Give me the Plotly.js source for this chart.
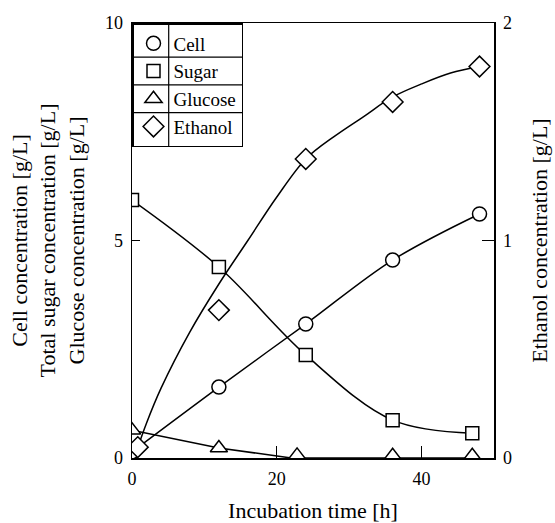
<!DOCTYPE html>
<html>
<head>
<meta charset="utf-8">
<script src="https://cdn.plot.ly/plotly-3.0.1.min.js"></script>
<style>html,body{margin:0;padding:0;background:#fff;}#chart{width:555px;height:523px;}</style>
</head>
<body>
<div id="chart"></div>
<script>
// Data
const cellX = [0, 12, 24, 36, 48];
const cellY = [0.14, 1.63, 3.08, 4.55, 5.61];
const sugarX = [0, 12, 24, 36, 47];
const sugarY = [5.93, 4.39, 2.37, 0.87, 0.57];
const glucoseX = [0, 12, 22.8, 36, 47];
const glucoseY = [0.64, 0.23, 0.06, 0.05, 0.05];
const glucoseLineX = [0, 12, 22, 36, 48];
const glucoseLineY = [0.64, 0.23, 0.0, 0.0, 0.0];
const ethanolX = [0.8, 12, 24, 36, 48];
const ethanolY = [0.05, 0.68, 1.375, 1.637, 1.80];
// fitted ethanol curve
const ethanolFitX = [0.5, 2, 4, 8, 12, 16, 20, 24, 28, 32, 36, 40, 44, 48];
const ethanolFitY = [0.02, 0.16, 0.32, 0.58, 0.80, 1.00, 1.20, 1.375, 1.48, 1.57, 1.66, 1.72, 1.77, 1.80];
const seriesNames = ['Cell', 'Sugar', 'Glucose', 'Ethanol'];
const xTicks = [0, 20, 40];
const yTicks = [0, 5, 10];
const y2Ticks = [0, 1, 2];

const textFont = "'Liberation Serif', 'Times New Roman', serif";
const lineStyle = {color: '#000', width: 1.5};
const mk = (sym, size) => ({symbol: sym, size: size, color: '#fff', line: {color: '#000', width: 1.5}});

const traces = [
  {x: cellX, y: cellY, mode: 'lines', line: Object.assign({shape: 'spline'}, lineStyle), showlegend: false, hoverinfo: 'skip'},
  {x: sugarX, y: sugarY, mode: 'lines', line: Object.assign({shape: 'spline'}, lineStyle), showlegend: false, hoverinfo: 'skip'},
  {x: glucoseLineX, y: glucoseLineY, mode: 'lines', line: lineStyle, showlegend: false, hoverinfo: 'skip'},
  {x: cellX, y: cellY, mode: 'markers', name: seriesNames[0], marker: mk('circle', 14)},
  {x: sugarX, y: sugarY, mode: 'markers', name: seriesNames[1], marker: mk('square', 13)},
  {x: glucoseX, y: glucoseY, mode: 'markers', name: seriesNames[2], marker: mk('triangle-up', 15)},
  {x: ethanolFitX, y: ethanolFitY, yaxis: 'y2', mode: 'lines', line: Object.assign({shape: 'spline'}, lineStyle), showlegend: false, hoverinfo: 'skip'},
  {x: ethanolX, y: ethanolY, yaxis: 'y2', mode: 'markers', name: seriesNames[3], marker: mk('diamond', 16)}
];

const W = 555, H = 523;
const M = {l: 132, r: 61, t: 23, b: 65};

const layout = {
  width: W, height: H,
  margin: M,
  paper_bgcolor: '#fff', plot_bgcolor: '#fff',
  font: {family: textFont, color: '#000', size: 18},
  showlegend: true,
  legend: {x: 0, y: 1, xanchor: 'left', yanchor: 'top', bordercolor: '#000', borderwidth: 1.5,
           bgcolor: 'rgba(0,0,0,0)', font: {family: textFont, size: 19}, tracegroupgap: 0, itemwidth: 30},
  xaxis: {range: [0, 50], tickvals: xTicks, ticks: 'inside', ticklen: 12,
          tickcolor: '#000', showline: true, linecolor: '#000', linewidth: 1.5, mirror: true,
          showgrid: false, zeroline: false, tickfont: {family: textFont, size: 18}, ticklabelstandoff: 4,
          title: {text: 'Incubation time [h]', font: {family: textFont, size: 22}, standoff: 16}},
  yaxis: {range: [0, 10], tickvals: yTicks, ticks: 'inside', ticklen: 8, tickcolor: '#000',
          showline: true, linecolor: '#000', linewidth: 1.5, showgrid: false, zeroline: false,
          tickfont: {family: textFont, size: 18}, ticklabelstandoff: 4,
          title: {text: 'Cell concentration [g/L]<br>Total sugar concentration [g/L]<br>Glucose concentration [g/L]',
                  font: {family: textFont, size: 22}, standoff: 14}},
  yaxis2: {range: [0, 2], tickvals: y2Ticks, overlaying: 'y', side: 'right', ticks: 'inside', ticklen: 12,
           tickcolor: '#000', showline: true, linecolor: '#000', linewidth: 1.5, showgrid: false, zeroline: false,
           tickfont: {family: textFont, size: 18}, ticklabelstandoff: 4,
           title: {text: 'Ethanol concentration [g/L]', font: {family: textFont, size: 22}, standoff: 20}}
};

Plotly.newPlot('chart', traces, layout, {displayModeBar: false, staticPlot: true}).then(gd => {
  // draw table-like separators inside the legend box
  const leg = gd.querySelector('g.legend');
  const bg = leg && leg.querySelector('rect.bg');
  if (!bg) return;
  const gbox = gd.getBoundingClientRect();
  const lb = bg.getBoundingClientRect();
  const pw = W - M.l - M.r, ph = H - M.t - M.b;
  const toX = px => (px - gbox.left - M.l) / pw;
  const toY = py => 1 - (py - gbox.top - M.t) / ph;
  const items = Array.from(leg.querySelectorAll('g.traces'));
  const shapes = [];
  const x0 = toX(lb.left), x1 = toX(lb.right);
  for (let i = 1; i < items.length; i++) {
    const a = items[i - 1].getBoundingClientRect(), b = items[i].getBoundingClientRect();
    const py = (a.bottom + b.top) / 2;
    shapes.push({type: 'line', xref: 'paper', yref: 'paper', x0: x0, x1: x1, y0: toY(py), y1: toY(py),
                 line: {color: '#000', width: 1.2}});
  }
  // divider between the symbol column and the text column
  let symRight = lb.left + 28, txtLeft = lb.left + 40;
  const pts = leg.querySelectorAll('g.legendpoints');
  const txts = leg.querySelectorAll('text.legendtext');
  if (pts.length && txts.length) {
    symRight = Math.max(...Array.from(pts).map(p => p.getBoundingClientRect().right));
    txtLeft = Math.min(...Array.from(txts).map(t => t.getBoundingClientRect().left));
  }
  const divX = toX((symRight + txtLeft) / 2);
  shapes.push({type: 'line', xref: 'paper', yref: 'paper', x0: divX, x1: divX, y0: toY(lb.top), y1: toY(lb.bottom),
               line: {color: '#000', width: 1.2}});
  return Plotly.relayout(gd, {shapes: shapes});
});
</script>
</body>
</html>
